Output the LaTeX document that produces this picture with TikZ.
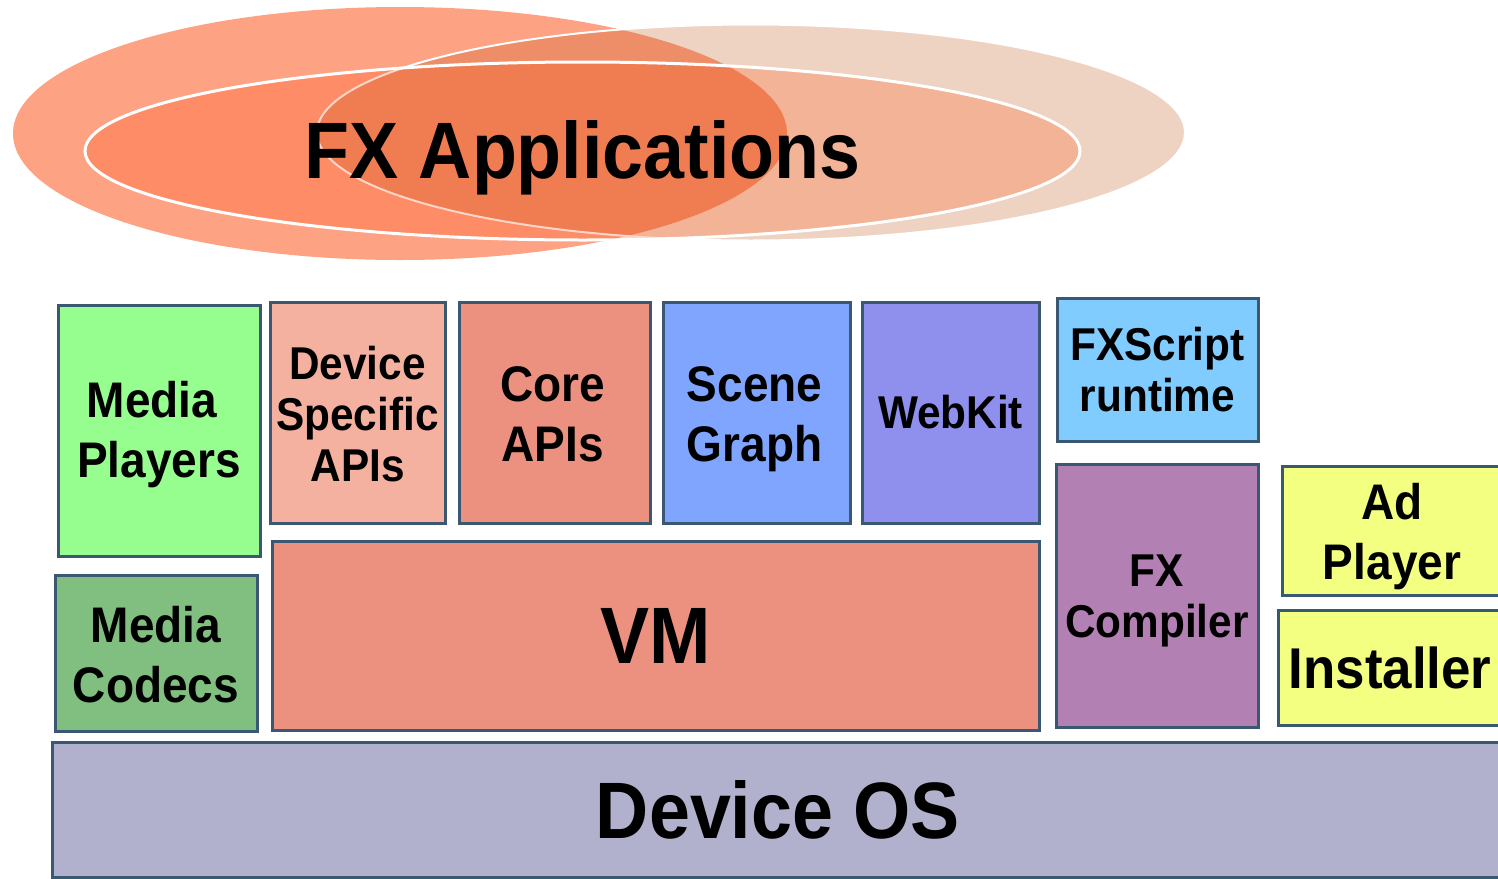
\documentclass[tikz,border=0pt]{standalone}
\usepackage{fontspec}
\newfontfamily\lab{Liberation Sans}[FakeStretch=0.92]
\definecolor{bordc}{HTML}{3B5872}
\definecolor{ellA}{HTML}{FEA284}
\definecolor{ellB}{RGB}{192,91,32}
\definecolor{ellC}{RGB}{255,68,0}
\definecolor{cGreen}{HTML}{96FE8F}
\definecolor{cDev}{HTML}{F4B19F}
\definecolor{cCore}{HTML}{EC9180}
\definecolor{cScene}{HTML}{7FA5FF}
\definecolor{cWeb}{HTML}{8F8FED}
\definecolor{cFxs}{HTML}{80CCFF}
\definecolor{cComp}{HTML}{B280B2}
\definecolor{cYel}{HTML}{F3FF80}
\definecolor{cCodec}{HTML}{80BF80}
\definecolor{cOS}{HTML}{B1B1CD}
\tikzset{
  box/.style={draw=bordc, line width=1.5pt, inner sep=0pt},
  lbl/.style={inner sep=0pt, align=center, font=\lab\bfseries\fontsize{25}{30}\selectfont},
  smalltxt/.style={font=\lab\bfseries\fontsize{23}{25.5}\selectfont},
  bigtxt/.style={font=\lab\bfseries\fontsize{40}{48}\selectfont},
}
\begin{document}
\begin{tikzpicture}[x=0.5pt,y=-0.5pt]
\useasboundingbox (0,0) rectangle (1498,878);
\clip (0,0) rectangle (1498,878);
% ellipses
\fill[ellA] (400,133.5) ellipse [x radius=193.5pt, y radius=63.25pt];
\path[fill=ellB, fill opacity=0.27, draw=white, draw opacity=1, line width=1pt]
  (751,132.5) ellipse [x radius=217pt, y radius=54pt];
\path[fill=ellC, fill opacity=0.22, draw=white, draw opacity=1, line width=1.5pt]
  (582.5,151) ellipse [x radius=248.75pt, y radius=44.5pt];
\node[lbl, bigtxt, anchor=base] (fxa) at (582.5,178) {FX Applications};
% boxes
\node[box, fill=cGreen, minimum width=101pt, minimum height=125.5pt] (mp) at (159,430.5) {};
\node[box, fill=cDev, minimum width=87.5pt, minimum height=110.5pt] (dsa) at (357.5,412.5) {};
\node[box, fill=cCore, minimum width=95.5pt, minimum height=110.5pt] (core) at (554.5,412.5) {};
\node[box, fill=cScene, minimum width=93.5pt, minimum height=110.5pt] (sg) at (756.5,412.5) {};
\node[box, fill=cWeb, minimum width=88.5pt, minimum height=110.5pt] (wk) at (950.5,412.5) {};
\node[box, fill=cFxs, minimum width=100.5pt, minimum height=71.5pt] (fxs) at (1157.5,369.5) {};
\node[box, fill=cComp, minimum width=101pt, minimum height=131.5pt] (fxc) at (1157,595.5) {};
\node[box, fill=cYel, minimum width=110pt, minimum height=64.5pt] (ad) at (1392,530.5) {};
\node[box, fill=cYel, minimum width=112pt, minimum height=57.5pt] (inst) at (1390,667.5) {};
\node[box, fill=cCodec, minimum width=101pt, minimum height=78pt] (mc) at (156,653) {};
\node[box, fill=cCore, minimum width=383.5pt, minimum height=94.5pt] (vm) at (655.5,635.5) {};
\node[box, fill=cOS, minimum width=726pt, minimum height=67.5pt] (os) at (778,809.5) {};
% labels
\node[lbl] (mpt) at ([yshift=-2pt]mp.center) {Media\hspace*{7pt}\\Players};
\node[lbl, smalltxt] (dsat) at ([yshift=-1pt]dsa.center) {Device\\Specific\\APIs};
\node[lbl] (coret) at ([yshift=-1pt,xshift=-1pt]core.center) {Core\\APIs};
\node[lbl] (sgt) at ([yshift=-3.5pt,xshift=-1pt]sg.center) {Scene\\Graph};
\node[lbl, smalltxt] (wkt) at (wk.center) {WebKit};
\node[lbl, smalltxt] (fxst) at (fxs.center) {FXScript\\runtime};
\node[lbl, smalltxt] (fxct) at ([yshift=-2.5pt]fxc.center) {FX\\Compiler};
\node[lbl] (adt) at ([yshift=-3pt]ad.center) {Ad\\Player};
\node[lbl, font=\lab\bfseries\fontsize{28.75}{32}\selectfont] (instt) at (inst.center) {Installer};
\node[lbl] (mct) at ([yshift=-1pt]mc.center) {Media\\Codecs};
\node[lbl, bigtxt] (vmt) at (vm.center) {VM};
\node[lbl, bigtxt] (ost) at (os.center) {Device OS};
\end{tikzpicture}
\end{document}
